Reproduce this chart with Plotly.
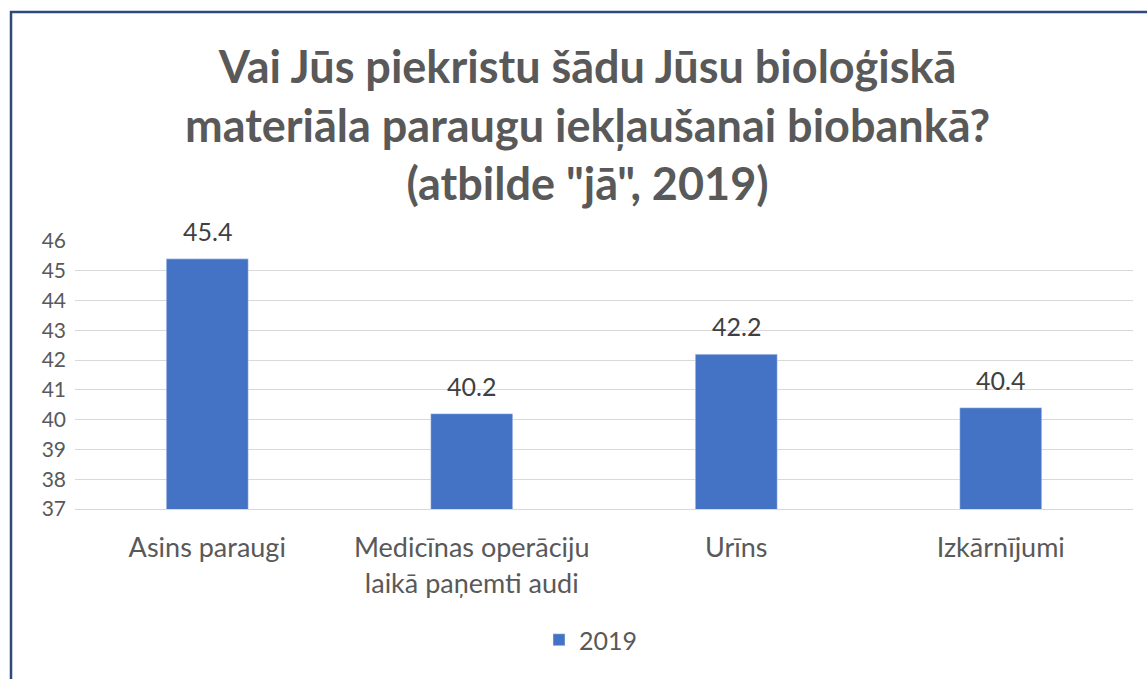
import plotly.graph_objects as go

categories = ["Asins paraugi", "Medicīnas operāciju<br>laikā paņemti audi", "Urīns", "Izkārnījumi"]
values_2019 = [45.4, 40.2, 42.2, 40.4]
series_name = "2019"
y_ticks = list(range(37, 47))
title_text = "Vai Jūs piekristu šādu Jūsu bioloģiskā<br>materiāla paraugu iekļaušanai biobankā?<br>(atbilde \"jā\", 2019)"

W, H = 1147, 679
ml, mr, mt, mb = 75, 14, 241, 170
pw = W - ml - mr
ph = H - mt - mb

def px_x(x):
    return (x - ml) / pw

def px_y(y):
    return (H - mb - y) / ph

font_fam = "Lato, 'Open Sans', sans-serif"

fig = go.Figure()
fig.add_trace(go.Bar(
    x=categories, y=values_2019, name=series_name,
    marker_color="#4472C4",
))

label_anns = [dict(x=c, y=v, xref="x", yref="y", text=f"{v:.1f}", showarrow=False,
                   yanchor="bottom", xanchor="center", yshift=11,
                   font=dict(size=25, color="#404040", family=font_fam))
              for c, v in zip(categories, values_2019)]

title_ann = dict(text=title_text, xref="paper", yref="paper",
                 x=px_x(587), xanchor="center", y=px_y(124), yanchor="middle",
                 showarrow=False,
                 font=dict(size=45, color="#595959", family=font_fam, weight="bold"))

fig.update_layout(
    width=W, height=H,
    margin=dict(l=ml, r=mr, t=mt, b=mb),
    paper_bgcolor="white", plot_bgcolor="white",
    bargap=0.69,
    font=dict(family=font_fam, color="#595959"),
    showlegend=True,
    legend=dict(orientation="h", x=px_x(591), xanchor="center", y=px_y(640), yanchor="middle",
                font=dict(size=25, color="#595959")),
    xaxis=dict(showgrid=False, showline=True, linecolor="#D9D9D9", linewidth=1,
               tickfont=dict(size=27, color="#595959"), ticks="", ticklabelstandoff=15),
    yaxis=dict(range=[37, 46], tickvals=y_ticks, showgrid=True, gridcolor="#D9D9D9",
               gridwidth=1, zeroline=False, showline=False, ticks="",
               tickfont=dict(size=21, color="#595959"), ticklabelstandoff=8),
    annotations=label_anns + [title_ann],
    shapes=[dict(type="rect", xref="paper", yref="paper",
                 x0=px_x(11), x1=px_x(1200), y0=px_y(730), y1=px_y(12),
                 line=dict(color="#2F4A7A", width=2.5), fillcolor="rgba(0,0,0,0)", layer="above")],
)

fig.write_html("out.html", config={"displayModeBar": False},
               post_script="document.body.style.margin='0';")
